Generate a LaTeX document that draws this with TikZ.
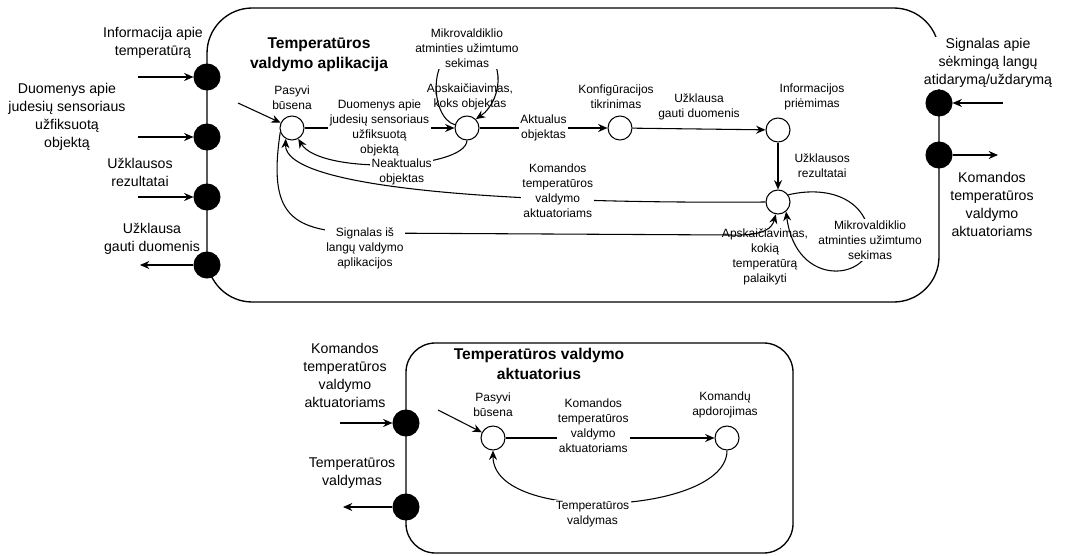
\documentclass[tikz,border=0pt]{standalone}
\usepackage{fontspec}
\setmainfont{Liberation Sans}
\usetikzlibrary{arrows.meta}

\begin{document}
\begin{tikzpicture}[x=0.75pt,y=-0.75pt,>={Stealth[length=7pt,width=6pt]},line width=0.8pt,
  port/.style={circle,draw,fill=black,minimum size=19.5pt,inner sep=0pt},
  state/.style={circle,draw,fill=white,minimum size=18pt,inner sep=0pt},
  plbl/.style={align=center,font=\fontsize{10.6}{13.5}\selectfont,fill=white,inner sep=1pt},
  slbl/.style={align=center,font=\fontsize{9}{11.25}\selectfont,inner sep=1pt},
  elbl/.style={slbl,fill=white},
  ttl/.style={align=center,font=\fontsize{11.7}{15}\selectfont\bfseries},
  box/.style={draw,line width=1pt}]
  \useasboundingbox (0,0) rectangle (1067,556);
  \draw[box,rounded corners=34pt] (207,8) rectangle (939,302);
  \draw[box,rounded corners=22pt] (406,343) rectangle (793,553);

  \node[plbl] (pin1l) at (153,43) {Informacija apie\\temperatūrą};
  \node[plbl] (pin2l) at (67,117) {Duomenys apie\\judesių sensoriaus\\užfiksuotą\\objektą};
  \node[plbl] (pin3l) at (140,172) {Užklausos\\rezultatai};
  \node[plbl] (poutl) at (152,239) {Užklausa\\gauti duomenis};
  \node[plbl] (rinl) at (988,63) {Signalas apie\\sėkmingą langų\\atidarymą/uždarymą};
  \node[plbl] (routl) at (992,204) {Komandos\\temperatūros\\valdymo\\aktuatoriams};
  \node[plbl] (ainl) at (345,375) {Komandos\\temperatūros\\valdymo\\aktuatoriams};
  \node[plbl] (aoutl) at (352,473) {Temperatūros\\valdymas};

  \node[port] (pin1) at (207,77) {};
  \node[port] (pin2) at (207,137) {};
  \node[port] (pin3) at (207,197) {};
  \node[port] (pout) at (207,265) {};
  \node[port] (rin) at (939,103) {};
  \node[port] (rout) at (939,155) {};
  \node[port] (ain) at (406,423) {};
  \node[port] (aout) at (406,507) {};
  \coordinate (pin1s) at (138,77);
  \coordinate (pin2s) at (138,137);
  \coordinate (pin3s) at (138,197);
  \coordinate (pouts) at (140,265);
  \coordinate (rins) at (1003,103);
  \coordinate (routs) at (998,155);
  \coordinate (ains) at (340,423);
  \coordinate (aouts) at (343,507);
  \draw[->] (pin1s) -- (pin1);
  \draw[->] (pin2s) -- (pin2);
  \draw[->] (pin3s) -- (pin3);
  \draw[->] (pout) -- (pouts);
  \draw[->] (rins) -- (rin);
  \draw[->] (rout) -- (routs);
  \draw[->] (ains) -- (ain);
  \draw[->] (aout) -- (aouts);

  \node[ttl] (app) at (319,55) {Temperatūros\\valdymo aplikacija};
  \node[ttl] (act) at (539,364) {Temperatūros valdymo\\aktuatorius};

  \node[state] (s0) at (292,128) {};
  \node[state] (s1) at (467,128) {};
  \node[state] (s2) at (620,128) {};
  \node[state] (s3) at (778,130) {};
  \node[state] (s4) at (778,202) {};
  \node[state] (t0) at (493,438) {};
  \node[state] (t1) at (727,438) {};
  \node[slbl] (s0l) at (292,98) {Pasyvi\\būsena};
  \node[slbl] (s1l) at (470,97) {Apskaičiavimas,\\koks objektas};
  \node[slbl] (s2l) at (616,97) {Konfigūracijos\\tikrinimas};
  \node[slbl] (s3l) at (812,97) {Informacijos\\priėmimas};
  \node[slbl] (s4l) at (765,257) {Apskaičiavimas,\\kokią\\temperatūrą\\palaikyti};
  \node[slbl] (t0l) at (493,405) {Pasyvi\\būsena};
  \node[slbl] (t1l) at (725,405) {Komandų\\apdorojimas};

  \coordinate (s0s) at (238,103);
  \coordinate (t0s) at (438,410);
  \draw[->] (s0s) -- (s0);
  \draw[->] (s0) -- node[elbl] {Duomenys apie\\judesių sensoriaus\\užfiksuotą\\objektą} (s1);
  \draw[->] (s1) -- node[elbl] {Aktualus\\objektas} (s2);
  \draw[->] (s2) -- node[elbl,above=5pt] {Užklausa\\gauti duomenis} (s3);
  \draw[->] (s3) -- node[elbl,right=11pt] {Užklausos\\rezultatai} (s4);
  \draw[->] (s1.south) .. controls (465,170) and (320,175) .. node[elbl,pos=0.45,anchor=north,yshift=5.5pt] {Neaktualus\\objektas} (s0.300);
  \draw[->] (s4.west) .. controls (500,204) and (284,188) .. node[elbl,pos=0.28,yshift=6pt] {Komandos\\temperatūros\\valdymo\\aktuatoriams} (s0.240);
  \draw[->] (s0.200) .. controls (268,215) and (290,232) .. (365,233) node[elbl,anchor=north,yshift=5.5pt] {Signalas iš\\langų valdymo\\aplikacijos} -- (730,235) .. controls (765,236) and (772,228) .. (s4.260);
  \draw[->] (s1.165) .. controls (430,118) and (426,48) .. (467,48) node[elbl] {Mikrovaldiklio\\atminties užimtumo\\sekimas} .. controls (508,48) and (504,100) .. (s1.45);
  \draw[->] (s4.35) .. controls (830,185) and (868,200) .. (870,240) node[elbl] {Mikrovaldiklio\\atminties užimtumo\\sekimas} .. controls (872,280) and (796,290) .. (s4.310);

  \draw[->] (t0s) -- (t0);
  \draw[->] (t0) -- node[elbl,pos=0.42,yshift=9pt] {Komandos\\temperatūros\\valdymo\\aktuatoriams} (t1);
  \draw[->] (t1.south) .. controls (727,515) and (493,525) .. node[elbl,pos=0.55,anchor=north,yshift=2pt] {Temperatūros\\valdymas} (t0.south);
\end{tikzpicture}
\end{document}
